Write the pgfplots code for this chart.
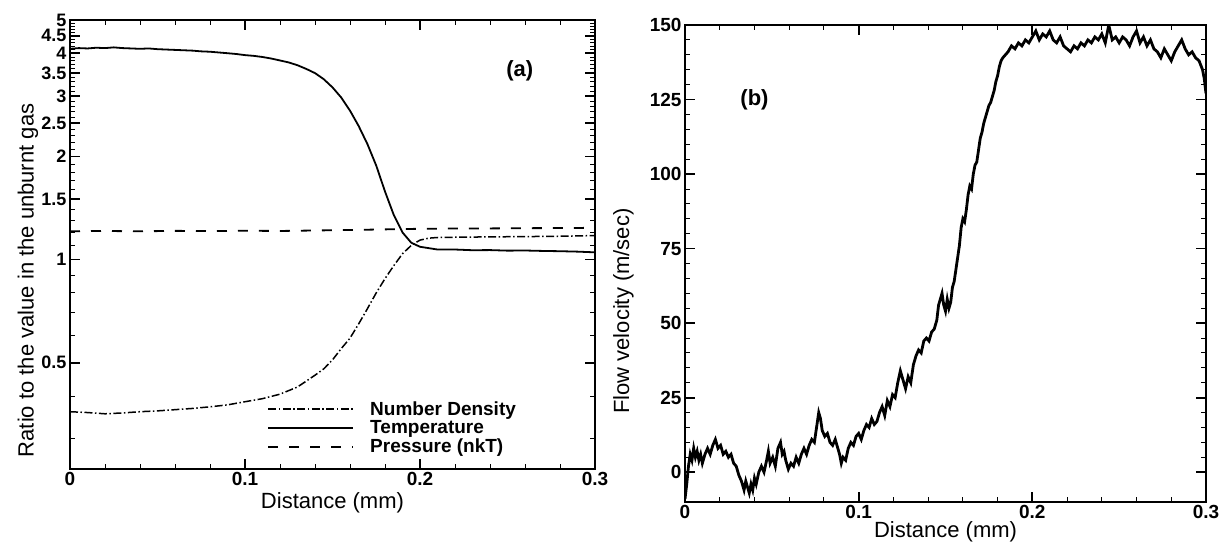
\documentclass[border=0pt]{standalone}
\usepackage{fontspec}
\setmainfont{Liberation Sans}
\usepackage{pgfplots}
\pgfplotsset{compat=1.18}

\pgfplotsset{every axis/.append style={
  scale only axis, axis line style={line width=2.4pt}, line join=miter,
  tick align=inside, major tick length=10pt, minor tick length=5pt,
  every major tick/.append style={line width=1.8pt,black},
  every minor tick/.append style={line width=0.9pt,black},
  tick label style={font=\fontsize{19}{22}\selectfont\bfseries},
  label style={font=\fontsize{22}{26}\selectfont},
  /pgf/number format/assume math mode=true}}

\begin{document}
\begin{tikzpicture}
\useasboundingbox (0,0) rectangle (1219pt,545pt);

% (a) ratios, log scale
\begin{axis}[at={(70pt,76pt)},anchor=south west,width=525pt,height=449pt,
  xmin=0,xmax=0.3,ymode=log,ymin=0.245,ymax=5,
  xtick={0,0.1,0.2,0.3},xticklabels={0,0.1,0.2,0.3},minor x tick num=4,
  ytick={0.5,1,1.5,2,2.5,3,3.5,4,4.5,5},
  yticklabels={0.5,1,1.5,2,2.5,3,3.5,4,4.5,5},
  yticklabel style={font=\fontsize{18}{20}\selectfont\bfseries,inner ysep=0pt},
  minor ytick={0.3,0.4,0.6,0.7,0.8,0.9,1.1,1.2,1.3,1.4,1.6,1.7,1.8,1.9,
    2.1,2.2,2.3,2.4,2.6,2.7,2.8,2.9,3.1,3.2,3.3,3.4,3.6,3.7,3.8,3.9,
    4.1,4.2,4.3,4.4,4.6,4.7,4.8,4.9},
  xlabel={Distance (mm)},ylabel={Ratio to the value in the unburnt gas},
  xlabel style={at={(axis description cs:0.5,-0.075)},anchor=center},
  ylabel style={at={(axis description cs:-0.08,0.42)},anchor=center},
  legend style={at={(0.37,0.16)},anchor=north west,draw=none,fill=none,
    font=\fontsize{19}{22}\selectfont\bfseries,row sep=0pt,
    /tikz/every odd column/.append style={column sep=14pt}},
  legend cell align=left,
  legend image code/.code={\draw[#1] (0pt,0pt) -- (85pt,0pt);}]
\addplot[black,line width=1.5pt,dash pattern=on 8pt off 2.5pt on 1.5pt off 2.5pt] coordinates {
(0,0.36)(0.01,0.358)(0.02,0.355)(0.03,0.357)(0.04,0.36)(0.05,0.362)(0.06,0.365)
(0.07,0.368)(0.08,0.372)(0.09,0.377)(0.1,0.385)(0.11,0.393)(0.12,0.405)(0.13,0.425)
(0.14,0.46)(0.145,0.48)(0.15,0.51)(0.155,0.55)(0.16,0.59)(0.165,0.65)(0.17,0.72)
(0.175,0.80)(0.18,0.88)(0.185,0.96)(0.19,1.04)(0.195,1.10)(0.2,1.14)(0.205,1.155)
(0.21,1.16)(0.22,1.162)(0.24,1.165)(0.26,1.167)(0.28,1.17)(0.3,1.175)};
\addlegendentry{Number Density}
\addplot[black,line width=1.8pt] coordinates {
(0,4.12)(0.005,4.14)(0.01,4.13)(0.015,4.15)(0.02,4.14)(0.025,4.16)(0.03,4.14)
(0.035,4.13)(0.04,4.12)(0.045,4.13)(0.05,4.11)(0.055,4.10)(0.06,4.09)(0.065,4.08)
(0.07,4.07)(0.075,4.05)(0.08,4.04)(0.085,4.02)(0.09,4.00)(0.095,3.98)(0.1,3.95)
(0.105,3.93)(0.11,3.90)(0.115,3.86)(0.12,3.81)(0.125,3.76)(0.13,3.69)(0.135,3.60)
(0.14,3.50)(0.145,3.36)(0.15,3.18)(0.155,2.97)(0.16,2.72)(0.165,2.45)(0.17,2.17)
(0.175,1.88)(0.18,1.58)(0.185,1.35)(0.19,1.20)(0.195,1.12)(0.2,1.09)(0.205,1.08)
(0.21,1.07)(0.22,1.07)(0.23,1.065)(0.24,1.066)(0.25,1.062)(0.26,1.063)(0.27,1.06)
(0.28,1.058)(0.29,1.055)(0.3,1.05)};
\addlegendentry{Temperature}
\addplot[black,line width=1.8pt,dash pattern=on 10pt off 11pt] coordinates {
(0,1.21)(0.02,1.212)(0.04,1.209)(0.06,1.213)(0.08,1.211)(0.1,1.214)(0.12,1.212)
(0.14,1.216)(0.16,1.22)(0.18,1.225)(0.2,1.23)(0.22,1.232)(0.24,1.233)(0.26,1.235)
(0.28,1.236)(0.3,1.238)};
\addlegendentry{Pressure (nkT)}
\node[font=\fontsize{22}{26}\selectfont\bfseries] at (axis cs:0.257,3.55) {(a)};
\end{axis}

% (b) flow velocity
\begin{axis}[at={(685pt,43pt)},anchor=south west,width=521pt,height=477pt,
  xmin=0,xmax=0.3,ymin=-10,ymax=150,
  xtick={0,0.1,0.2,0.3},xticklabels={0,0.1,0.2,0.3},minor x tick num=4,
  ytick={0,25,...,150},minor y tick num=4,
  xlabel={Distance (mm)},ylabel={Flow velocity (m/sec)},
  xlabel style={at={(axis description cs:0.5,-0.062)},anchor=center},
  ylabel style={at={(axis description cs:-0.118,0.40)},anchor=center}]
\addplot[black,line width=2.8pt] coordinates {
(0,-9)(0.001,-4)(0.002,2)(0.003,6)(0.004,4)(0.005,8)(0.006,5)(0.007,7)(0.008,4)
(0.009,6)(0.01,3)(0.0115,6)(0.013,8)(0.0145,6)(0.016,9)(0.0175,11)(0.019,8)
(0.0205,9)(0.022,6)(0.0235,7)(0.025,5)(0.0265,6)(0.028,3)(0.0295,2)(0.031,-1)
(0.0325,-3)(0.034,-6)(0.035,-3)(0.036,-5)(0.037,-7)(0.038,-4)(0.039,-6)(0.04,-2)
(0.041,-4)(0.0425,0)(0.044,2)(0.0455,0)(0.047,4)(0.048,7)(0.049,3)(0.0505,5)
(0.052,2)(0.0535,8)(0.055,10)(0.056,6)(0.057,7)(0.058,4)(0.0595,1)(0.061,3)
(0.0625,2)(0.064,5)(0.0655,3)(0.067,6)(0.0685,8)(0.07,6)(0.0715,9)(0.073,11)
(0.0745,10)(0.076,16)(0.077,20)(0.078,18)(0.079,14)(0.0805,12)(0.082,13)
(0.0835,10)(0.085,9)(0.0865,11)(0.088,8)(0.089,6)(0.09,3)(0.091,5)(0.0925,4)
(0.094,8)(0.0955,10)(0.097,9)(0.0985,12)(0.1,13)(0.1015,11)(0.103,14)(0.1045,16)
(0.106,15)(0.1075,18)(0.109,16)(0.1105,17)(0.112,20)(0.1135,22)(0.115,19)
(0.1165,24)(0.118,22)(0.1195,26)(0.121,25)(0.1225,30)(0.124,34)(0.1255,31)
(0.127,28)(0.1285,32)(0.13,30)(0.1315,36)(0.133,39)(0.1345,41)(0.136,40)
(0.1375,44)(0.139,45)(0.1405,44)(0.142,47)(0.1435,48)(0.145,51)(0.146,56)
(0.147,58)(0.148,60)(0.149,56)(0.150,54)(0.151,58)(0.152,55)(0.153,57)(0.154,62)
(0.155,64)(0.156,68)(0.157,72)(0.158,76)(0.159,82)(0.160,85)(0.161,84)(0.162,88)
(0.163,93)(0.164,96)(0.165,95)(0.166,100)(0.167,103)(0.168,104)(0.169,108)
(0.170,112)(0.171,114)(0.172,117)(0.173,119)(0.174,121)(0.175,123)(0.176,124)
(0.177,126)(0.178,128)(0.179,131)(0.180,133)(0.181,136)(0.182,138)(0.183,139)
(0.1845,140)(0.186,141)(0.188,143)(0.19,142)(0.192,144)(0.194,143)(0.196,145)
(0.198,144)(0.2,146)(0.202,148)(0.204,145)(0.206,147)(0.208,146)(0.21,148)
(0.212,145)(0.214,144)(0.216,146)(0.218,143)(0.22,142)(0.222,141)(0.224,143)
(0.226,142)(0.228,144)(0.23,143)(0.232,145)(0.234,144)(0.236,146)(0.238,145)
(0.24,147)(0.242,144)(0.244,150)(0.246,145)(0.248,146)(0.25,144)(0.252,146)
(0.254,145)(0.256,143)(0.258,146)(0.26,148)(0.262,144)(0.264,146)(0.266,143)
(0.268,145)(0.27,142)(0.272,141)(0.274,139)(0.276,142)(0.278,140)(0.28,138)
(0.282,141)(0.284,143)(0.286,145)(0.288,142)(0.29,140)(0.292,141)(0.294,139)
(0.296,138)(0.298,135)(0.299,132)(0.3,127)};
\node[font=\fontsize{22}{26}\selectfont\bfseries] at (axis cs:0.04,125) {(b)};
\end{axis}
\end{tikzpicture}
\end{document}
